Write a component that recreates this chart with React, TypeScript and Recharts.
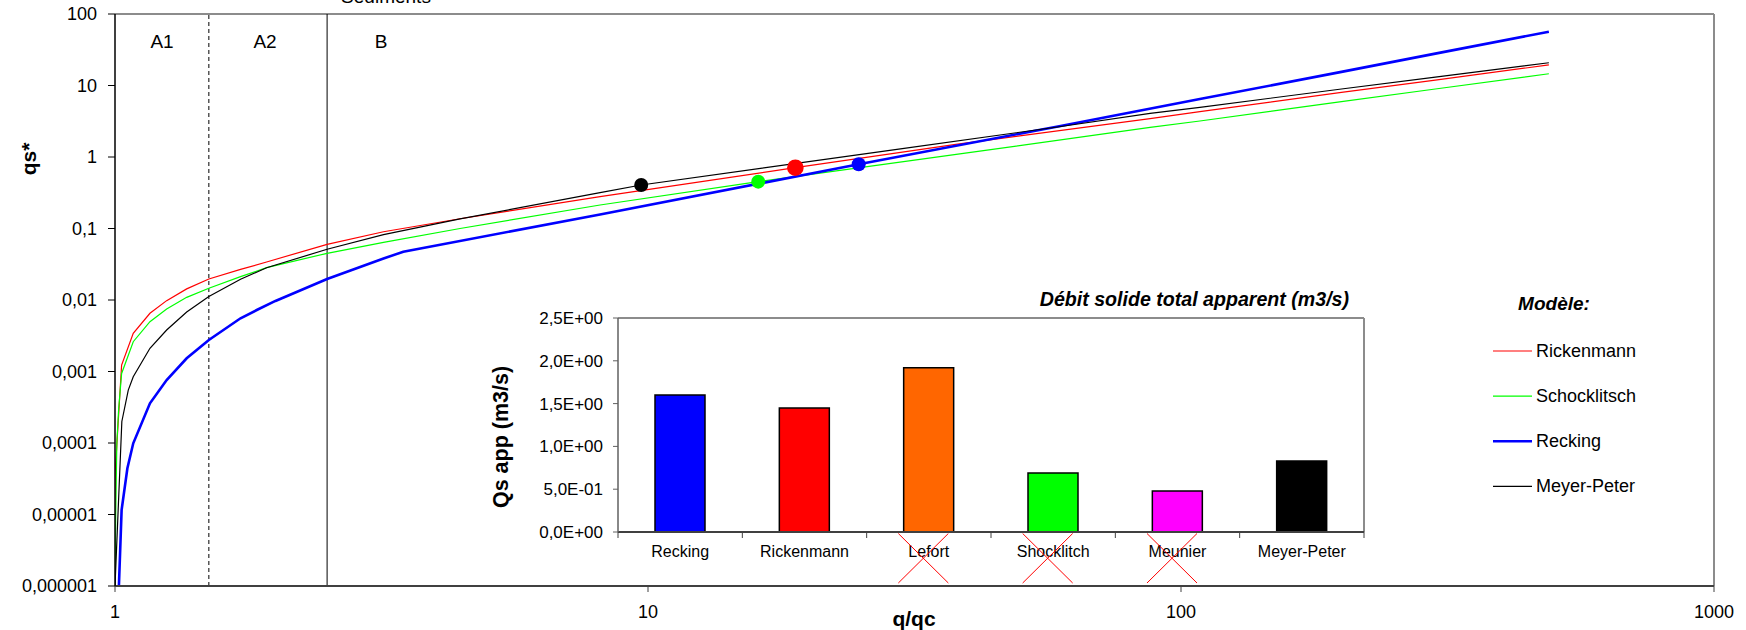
import React from "react";
import {
  ComposedChart,
  Line,
  Scatter,
  XAxis,
  YAxis,
  ReferenceLine,
  BarChart,
  Bar,
  Cell,
} from "recharts";

const FONT = '"Liberation Sans", Arial, Helvetica, sans-serif';

// courbes qs* = f(q/qc) : [q/qc, qs*]
const RICKENMANN: [number, number][] = [
  [1.0, 0.000001], [1.001, 0.00004], [1.029, 0.00123], [1.082, 0.00342], [1.163, 0.00652],
  [1.25, 0.0098], [1.363, 0.0143], [1.5, 0.0197], [1.72, 0.0268], [1.925, 0.034],
  [2.5, 0.0601], [3.19, 0.09], [4.44, 0.137], [8.13, 0.279], [18.9, 0.709],
  [37.8, 1.5], [87.5, 3.45], [108.5, 4.3], [200, 8.0], [300, 11.9], [490, 19.4],
];

const SCHOCKLITSCH: [number, number][] = [
  [1.0, 0.000001], [1.003, 0.00001], [1.008, 0.0001], [1.016, 0.0003], [1.029, 0.00094],
  [1.082, 0.00261], [1.163, 0.00498], [1.25, 0.0075], [1.363, 0.0109], [1.5, 0.0146],
  [1.72, 0.0212], [1.925, 0.0283], [2.5, 0.045], [3.19, 0.064], [4.44, 0.1],
  [8.13, 0.213], [16.1, 0.452], [40, 1.15], [87.5, 2.6], [108.5, 3.19],
  [200, 5.96], [300, 8.93], [490, 14.6],
];

const RECKING: [number, number][] = [
  [1.017, 0.000001], [1.029, 0.0000116], [1.055, 0.0000443], [1.082, 0.000099], [1.163, 0.000359],
  [1.25, 0.00076], [1.363, 0.00153], [1.5, 0.00276], [1.72, 0.00555], [1.845, 0.00724],
  [2.0, 0.0097], [2.5, 0.0197], [3.19, 0.038], [3.475, 0.0474], [8.13, 0.157],
  [24.85, 0.79], [59.1, 2.7], [108.5, 6.47], [200, 15.5], [300, 27.9], [490, 56.5],
];

const MEYER_PETER: [number, number][] = [
  [1.0, 0.000001], [1.03, 0.0002], [1.059, 0.00055], [1.082, 0.000845], [1.163, 0.00211],
  [1.25, 0.0038], [1.363, 0.0068], [1.5, 0.0112], [1.72, 0.0195], [1.925, 0.0283],
  [2.5, 0.0512], [3.19, 0.082], [4.44, 0.136], [8.13, 0.317], [9.71, 0.406],
  [30, 1.31], [59.1, 2.65], [87.5, 4.08], [108.5, 4.95], [200, 8.93], [300, 13.1], [490, 20.8],
];

// points de fonctionnement
const POINT_NAMES = ["Meyer-Peter", "Schocklitsch", "Rickenmann", "Recking"];
const POINT_Q = [9.71, 16.1, 18.9, 24.85];
const POINT_QS = [0.406, 0.452, 0.709, 0.79];

const Y_TICKS = [0.000001, 0.00001, 0.0001, 0.001, 0.01, 0.1, 1, 10, 100];
const Y_TICK_LABELS = ["0,000001", "0,00001", "0,0001", "0,001", "0,01", "0,1", "1", "10", "100"];
const X_TICKS = [1, 10, 100, 1000];

// encart : débit solide total apparent
const BAR_CATEGORIES = ["Recking", "Rickenmann", "Lefort", "Shocklitch", "Meunier", "Meyer-Peter"];
const BAR_VALUES = [1.6, 1.45, 1.92, 0.69, 0.48, 0.83];
const BAR_CROSSED = ["Lefort", "Shocklitch", "Meunier"];
const INSET_TICKS = [0, 0.5, 1, 1.5, 2, 2.5];
const INSET_TICK_LABELS = ["0,0E+00", "5,0E-01", "1,0E+00", "1,5E+00", "2,0E+00", "2,5E+00"];

const SERIES = [
  { name: "Rickenmann", data: RICKENMANN, color: "#ff0000", width: 1.2 },
  { name: "Schocklitsch", data: SCHOCKLITSCH, color: "#00ff00", width: 1.2 },
  { name: "Recking", data: RECKING, color: "#0000ff", width: 2.6 },
  { name: "Meyer-Peter", data: MEYER_PETER, color: "#000000", width: 1.2 },
];

const POINT_STYLE: Record<string, { color: string; r: number }> = {
  "Meyer-Peter": { color: "#000000", r: 7 },
  Schocklitsch: { color: "#00ff00", r: 7 },
  Rickenmann: { color: "#ff0000", r: 8.3 },
  Recking: { color: "#0000ff", r: 7 },
};

const BAR_COLORS = ["#0000ff", "#ff0000", "#ff6600", "#00ff00", "#ff00ff", "#000000"];

const toPts = (arr: [number, number][]) => arr.map(([q, qs]) => ({ q, qs }));

const CatTick = (props: any) => {
  const { x, y, payload, index, width, visibleTicksCount } = props;
  const half = payload.offset || width / visibleTicksCount / 2;
  const crossed = BAR_CROSSED.includes(payload.value);
  const cx = x - 5.5;
  return (
    <g>
      <line x1={x - half} x2={x - half} y1={y} y2={y + 6} stroke="#404040" />
      {index === visibleTicksCount - 1 && (
        <line x1={x + half} x2={x + half} y1={y} y2={y + 6} stroke="#404040" />
      )}
      <text x={x} y={y + 19} textAnchor="middle" dominantBaseline="central" fontSize={16} fontFamily={FONT} fill="#000">
        {payload.value}
      </text>
      {crossed && (
        <g stroke="#ff0000" strokeWidth={1}>
          <line x1={cx - 25} y1={y + 1.5} x2={cx + 25} y2={y + 51} />
          <line x1={cx + 25} y1={y + 1.5} x2={cx - 25} y2={y + 51} />
        </g>
      )}
    </g>
  );
};

export default function App() {
  const barData = BAR_CATEGORIES.map((name, i) => ({ name, value: BAR_VALUES[i] }));

  return (
    <div style={{ position: "absolute", left: 0, top: 0, width: 1746, height: 630, background: "#fff", fontFamily: FONT }}>
      <div style={{ position: "absolute", left: 0, top: 0 }}>
        <ComposedChart width={1746} height={630} margin={{ top: 14, right: 32, bottom: 0, left: 0 }}>
          <XAxis
            dataKey="q"
            type="number"
            scale="log"
            domain={[1, 1000]}
            ticks={X_TICKS}
            interval={0}
            allowDataOverflow
            height={44}
            tickSize={6}
            tickMargin={13}
            axisLine={{ stroke: "#404040", strokeWidth: 2 }}
            tickLine={{ stroke: "#404040" }}
            tick={{ fontSize: 18, fill: "#000", fontFamily: FONT }}
          />
          <YAxis
            dataKey="qs"
            type="number"
            scale="log"
            domain={[0.000001, 100]}
            ticks={Y_TICKS}
            interval={0}
            allowDataOverflow
            width={115}
            tickSize={7}
            tickMargin={11}
            tickFormatter={(v: number, i: number) => Y_TICK_LABELS[i]}
            axisLine={{ stroke: "#000", strokeWidth: 1.5 }}
            tickLine={{ stroke: "#000" }}
            tick={{ fontSize: 18, fill: "#000", fontFamily: FONT }}
          />
          <ReferenceLine y={100} stroke="#8c8c8c" strokeWidth={2} />
          <ReferenceLine x={1000} stroke="#8c8c8c" strokeWidth={2} />
          <ReferenceLine x={1.5} stroke="#000" strokeDasharray="4 3" />
          <ReferenceLine x={2.5} stroke="#000" />
          {SERIES.map((s) => (
            <Line
              key={s.name}
              data={toPts(s.data)}
              dataKey="qs"
              type="linear"
              stroke={s.color}
              strokeWidth={s.width}
              dot={false}
              isAnimationActive={false}
            />
          ))}
          {POINT_NAMES.map((name, i) => (
            <Scatter
              key={name}
              data={[{ q: POINT_Q[i], qs: POINT_QS[i] }]}
              dataKey="qs"
              isAnimationActive={false}
              shape={(p: any) => <circle cx={p.cx} cy={p.cy} r={POINT_STYLE[name].r} fill={POINT_STYLE[name].color} />}
            />
          ))}
        </ComposedChart>
      </div>

      <div style={{ position: "absolute", left: 440, top: 280 }}>
        <BarChart width={940} height={330} data={barData} margin={{ top: 38, right: 16, bottom: 0, left: 0 }}>
          <XAxis
            dataKey="name"
            type="category"
            height={78}
            interval={0}
            tickSize={0}
            tickMargin={0}
            tickLine={false}
            axisLine={{ stroke: "#404040", strokeWidth: 2 }}
            tick={<CatTick />}
          />
          <YAxis
            type="number"
            domain={[0, 2.5]}
            ticks={INSET_TICKS}
            interval={0}
            width={178}
            tickSize={5}
            tickMargin={10}
            tickFormatter={(v: number, i: number) => INSET_TICK_LABELS[i]}
            axisLine={{ stroke: "#606060", strokeWidth: 1.5 }}
            tickLine={{ stroke: "#606060" }}
            tick={{ fontSize: 17, fill: "#000", fontFamily: FONT }}
          />
          <ReferenceLine y={2.5} stroke="#8c8c8c" strokeWidth={2} />
          <ReferenceLine x="Meyer-Peter" position="end" stroke="#8c8c8c" strokeWidth={2} />
          <Bar dataKey="value" barSize={50} stroke="#000" strokeWidth={1.5} isAnimationActive={false}>
            {barData.map((d, i) => (
              <Cell key={d.name} fill={BAR_COLORS[i]} />
            ))}
          </Bar>
        </BarChart>
      </div>

      <svg width={1746} height={630} style={{ position: "absolute", left: 0, top: 0, pointerEvents: "none" }} fontFamily={FONT}>
        <text x={386} y={3} textAnchor="middle" fontSize={19}>Sédiments</text>
        <text x={162} y={41} textAnchor="middle" dominantBaseline="central" fontSize={19}>A1</text>
        <text x={265} y={41} textAnchor="middle" dominantBaseline="central" fontSize={19}>A2</text>
        <text x={381} y={41} textAnchor="middle" dominantBaseline="central" fontSize={19}>B</text>
        <text x={28} y={159} transform="rotate(-90 28 159)" textAnchor="middle" dominantBaseline="central" fontSize={21} fontWeight="bold">qs*</text>
        <text x={914} y={618} textAnchor="middle" dominantBaseline="central" fontSize={21} fontWeight="bold">q/qc</text>
        <text x={1349} y={299} textAnchor="end" dominantBaseline="central" fontSize={19.6} fontWeight="bold" fontStyle="italic">
          Débit solide total apparent (m3/s)
        </text>
        <text x={501} y={437} transform="rotate(-90 501 437)" textAnchor="middle" dominantBaseline="central" fontSize={21.5} fontWeight="bold">
          Qs app (m3/s)
        </text>
        <text x={1554} y={303} textAnchor="middle" dominantBaseline="central" fontSize={19} fontWeight="bold" fontStyle="italic">Modèle:</text>
        {SERIES.map((s, i) => {
          const y = 351 + i * 45.1;
          return (
            <g key={s.name}>
              <line x1={1493} x2={1532} y1={y} y2={y} stroke={s.color} strokeWidth={s.width} />
              <text x={1536} y={y} dominantBaseline="central" fontSize={18}>{s.name}</text>
            </g>
          );
        })}
      </svg>
    </div>
  );
}
